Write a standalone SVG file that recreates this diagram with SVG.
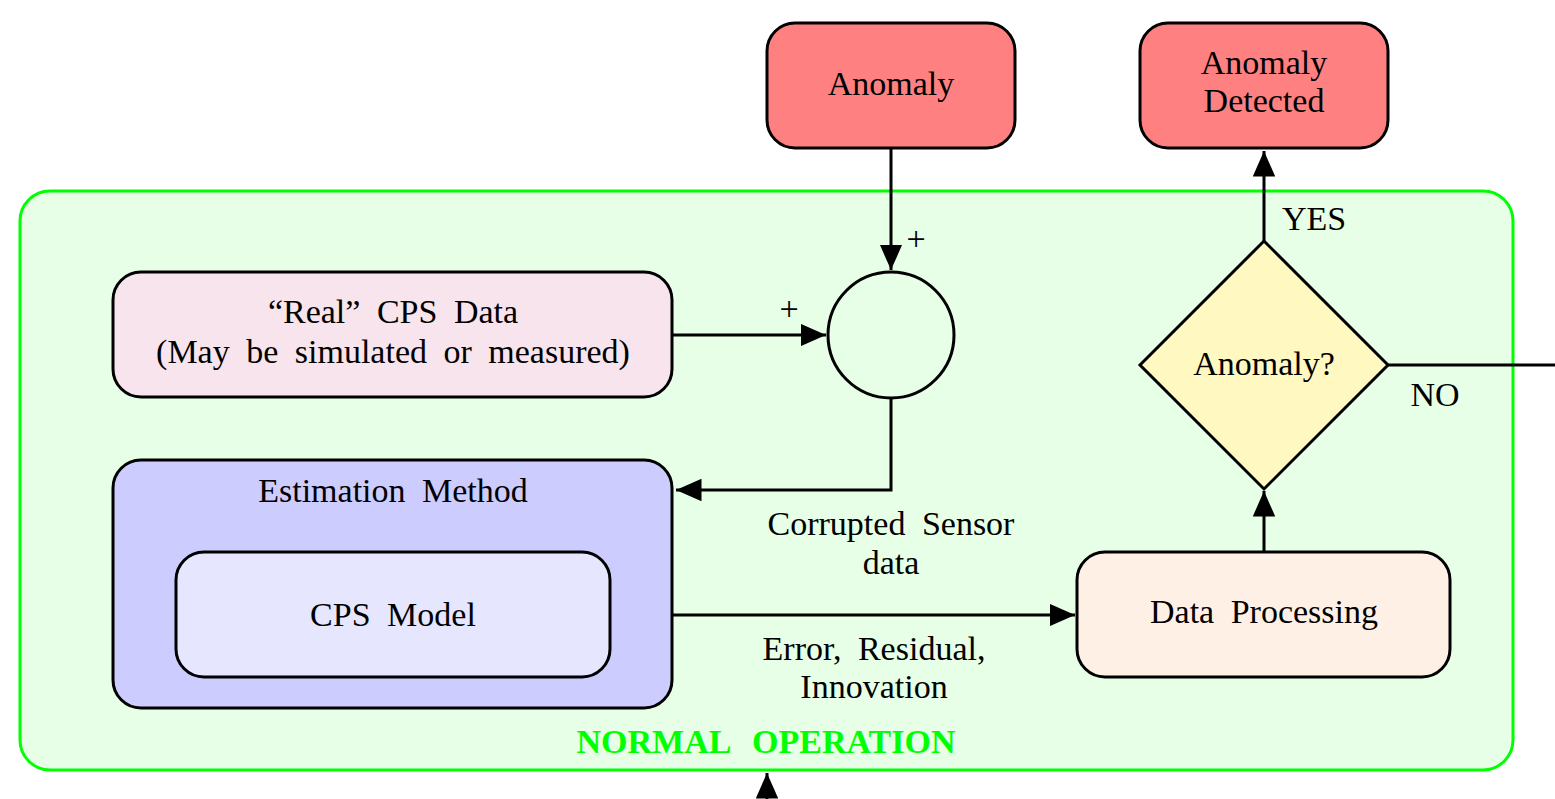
<svg xmlns="http://www.w3.org/2000/svg" width="1555" height="799" viewBox="0 0 1555 799">
<defs>
<marker id="arr" markerWidth="8.5" markerHeight="7.5" refX="8.5" refY="3.75" orient="auto" markerUnits="strokeWidth">
<path d="M0,0 L8.5,3.75 L0,7.5 Z" fill="#000"/>
</marker>
<style>
.t{font-family:"Liberation Serif","Times New Roman",serif;font-size:34px;fill:#000;text-anchor:middle;word-spacing:8px}
.n{stroke:#000;stroke-width:3}
.c{stroke:#000;stroke-width:3;fill:none}
</style>
</defs>
<rect width="1555" height="799" fill="#fff"/>
<g id="normal-operation">
<rect x="20" y="191" width="1493" height="579" rx="30" fill="#e6ffe6" stroke="#00ff00" stroke-width="3"/>
<text class="t" x="766" y="753" style="fill:#00ff00;font-weight:bold;word-spacing:14px">NORMAL OPERATION</text>
</g>
<g id="anomaly">
<rect class="n" x="767" y="23" width="248" height="125" rx="28" fill="#ff8080"/>
<text class="t" x="891" y="95">Anomaly</text>
</g>
<g id="anomaly-detected">
<rect class="n" x="1140" y="23" width="248" height="125" rx="28" fill="#ff8080"/>
<text class="t" x="1264" y="74">Anomaly</text>
<text class="t" x="1264" y="112">Detected</text>
</g>
<g id="real-data">
<rect class="n" x="113" y="272" width="559" height="125" rx="28" fill="#f8e4ec"/>
<text class="t" x="393" y="323">“Real” CPS Data</text>
<text class="t" x="393" y="363">(May be simulated or measured)</text>
</g>
<g id="sum">
<circle class="n" cx="891" cy="335" r="63" fill="#e6ffe6"/>
</g>
<g id="estimation">
<rect class="n" x="113" y="460" width="559" height="248" rx="28" fill="#ccccff"/>
<text class="t" x="393" y="502">Estimation Method</text>
</g>
<g id="cps-model">
<rect class="n" x="176" y="552" width="434" height="125" rx="28" fill="#e6e6ff"/>
<text class="t" x="393" y="626">CPS Model</text>
</g>
<g id="decision">
<polygon class="n" points="1264,241 1388,365 1264,489 1140,365" fill="#fff8c0"/>
<text class="t" x="1264" y="375">Anomaly?</text>
</g>
<g id="data-processing">
<rect class="n" x="1077" y="552" width="373" height="125" rx="28" fill="#fff0e6"/>
<text class="t" x="1264" y="623">Data Processing</text>
</g>
<g id="connectors">
<line class="c" x1="891" y1="148" x2="891" y2="270" marker-end="url(#arr)"/>
<line class="c" x1="672" y1="335" x2="826" y2="335" marker-end="url(#arr)"/>
<polyline class="c" points="891,398 891,490 676,490" marker-end="url(#arr)"/>
<line class="c" x1="672" y1="615" x2="1075" y2="615" marker-end="url(#arr)"/>
<line class="c" x1="1264" y1="552" x2="1264" y2="491" marker-end="url(#arr)"/>
<line class="c" x1="1264" y1="241" x2="1264" y2="151" marker-end="url(#arr)"/>
<line class="c" x1="1388" y1="365" x2="1555" y2="365"/>
<line class="c" x1="767" y1="799" x2="767" y2="773" marker-end="url(#arr)"/>
<text class="t" x="916" y="250">+</text>
<text class="t" x="789" y="320">+</text>
<text class="t" x="1314" y="230">YES</text>
<text class="t" x="1435" y="406">NO</text>
<text class="t" x="891" y="535">Corrupted Sensor</text>
<text class="t" x="891" y="574">data</text>
<text class="t" x="874" y="660">Error, Residual,</text>
<text class="t" x="874" y="698">Innovation</text>
</g>
</svg>
